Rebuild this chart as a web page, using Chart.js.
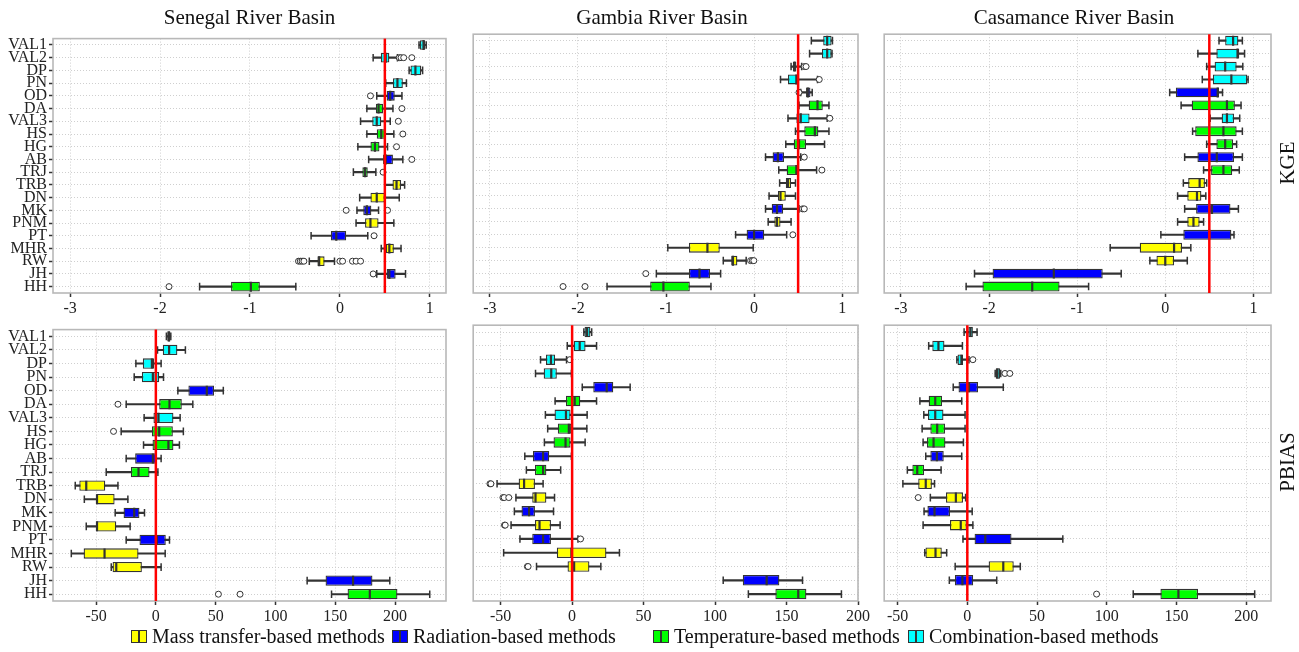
<!DOCTYPE html>
<html lang="en">
<head>
<meta charset="UTF-8">
<title>KGE and PBIAS by basin</title>
<script src="https://cdn.jsdelivr.net/npm/chart.js"></script>
<style>
  body { margin: 0; background: #fff; font-family: "Liberation Serif", serif; }
  #page { position: relative; width: 1299px; height: 652px; overflow: hidden; }
  .panel { position: absolute; }
  .title { position: absolute; top: 5px; width: 400px; text-align: center; font-size: 21px; color: #111; }
  .strip { position: absolute; width: 100px; height: 24px; line-height: 24px; text-align: center;
           font-size: 21px; color: #111; transform: rotate(-90deg); }
  .leg { position: absolute; top: 625px; display: flex; align-items: center; font-size: 20px; color: #111; white-space: nowrap; }
  .key { position: relative; display: inline-block; width: 14px; height: 11px; border: 1.3px solid #333; margin-right: 5px; }
  .key::after { content: ""; position: absolute; left: 6px; top: 0; width: 2px; height: 11px; background: #333; }
</style>
</head>
<body>
<div id="page"></div>
<script>
// categories, top to bottom
const methods = ['VAL1','VAL2','DP','PN','OD','DA','VAL3','HS','HG','AB','TRJ','TRB','DN','MK','PNM','PT','MHR','RW','JH','HH'];
// M = mass transfer, R = radiation, T = temperature, C = combination
const groups = ['C','C','C','C','R','T','C','T','T','R','T','M','M','R','M','R','M','M','R','T'];
const groupColors = { M: '#ffff00', R: '#0000ff', T: '#00ff00', C: '#00ffff' };
const legendLabels = ['Mass transfer-based methods', 'Radiation-based methods', 'Temperature-based methods', 'Combination-based methods'];
const legendGroups = ['M', 'R', 'T', 'C'];

const basins = ['Senegal River Basin', 'Gambia River Basin', 'Casamance River Basin'];
const kgeTicks = [-3, -2, -1, 0, 1];
const pbiasTicks = [-50, 0, 50, 100, 150, 200];

// each row: [lower whisker, q1, median, q3, upper whisker], in the order of methods
const kgeSenegal = [
  [0.88,0.89,0.93,0.95,0.96],[0.37,0.455,0.51,0.55,0.64],[0.77,0.785,0.84,0.905,0.92],[0.51,0.59,0.64,0.70,0.74],
  [0.41,0.52,0.56,0.61,0.69],[0.30,0.40,0.43,0.48,0.59],[0.23,0.36,0.41,0.46,0.56],[0.30,0.41,0.46,0.51,0.60],
  [0.20,0.34,0.39,0.44,0.53],[0.32,0.48,0.51,0.59,0.70],[0.15,0.25,0.28,0.31,0.40],[0.50,0.585,0.63,0.68,0.72],
  [0.22,0.34,0.41,0.50,0.66],[0.19,0.26,0.30,0.35,0.43],[0.18,0.28,0.34,0.43,0.60],[-0.32,-0.10,-0.04,0.07,0.31],
  [0.46,0.51,0.55,0.60,0.68],[-0.34,-0.25,-0.23,-0.17,-0.06],[0.41,0.52,0.55,0.62,0.73],[-1.56,-1.21,-0.99,-0.89,-0.49]
];
const kgeSenegalOut = [['VAL2',0.66],['VAL2',0.68],['VAL2',0.71],['VAL2',0.80],['OD',0.34],['DA',0.69],['VAL3',0.65],
  ['HS',0.70],['HG',0.63],['AB',0.80],['TRJ',0.48],['MK',0.07],['MK',0.53],['PT',0.38],
  ['RW',-0.46],['RW',-0.44],['RW',-0.42],['RW',-0.40],['RW',0.00],['RW',0.03],['RW',0.14],['RW',0.18],['RW',0.23],
  ['JH',0.37],['HH',-1.90]];

const kgeGambia = [
  [0.65,0.785,0.83,0.88,0.89],[0.63,0.77,0.83,0.88,0.885],[0.42,0.44,0.46,0.48,0.54],[0.30,0.385,0.48,0.51,0.72],
  [0.53,0.59,0.61,0.64,0.66],[0.51,0.62,0.72,0.78,0.85],[0.385,0.48,0.53,0.63,0.83],[0.47,0.57,0.69,0.73,0.85],
  [0.36,0.45,0.51,0.59,0.80],[0.13,0.21,0.27,0.34,0.53],[0.28,0.37,0.48,0.50,0.71],[0.29,0.36,0.385,0.42,0.47],
  [0.17,0.27,0.30,0.36,0.47],[0.13,0.20,0.26,0.33,0.51],[0.16,0.23,0.26,0.30,0.42],[-0.21,-0.085,0.00,0.115,0.37],
  [-0.98,-0.74,-0.53,-0.39,-0.01],[-0.35,-0.26,-0.24,-0.19,-0.09],[-1.11,-0.74,-0.62,-0.50,-0.38],[-1.67,-1.18,-1.03,-0.73,-0.49]
];
const kgeGambiaOut = [['DP',0.57],['DP',0.59],['PN',0.74],['OD',0.51],['VAL3',0.86],['AB',0.57],['TRJ',0.77],
  ['MK',0.55],['MK',0.57],['PT',0.44],['RW',-0.04],['RW',-0.02],['RW',-0.003],['JH',-1.23],['HH',-2.17],['HH',-1.92]];

const kgeCasamance = [
  [0.61,0.68,0.77,0.83,0.875],[0.37,0.58,0.82,0.84,0.90],[0.47,0.56,0.68,0.81,0.88],[0.42,0.54,0.75,0.93,0.94],
  [0.05,0.12,0.595,0.61,0.65],[0.18,0.30,0.70,0.79,0.86],[0.51,0.64,0.70,0.78,0.845],[0.31,0.34,0.66,0.81,0.875],
  [0.47,0.58,0.68,0.77,0.81],[0.22,0.365,0.585,0.78,0.875],[0.435,0.52,0.66,0.76,0.84],[0.205,0.26,0.39,0.45,0.47],
  [0.14,0.25,0.36,0.41,0.46],[0.22,0.35,0.53,0.74,0.83],[0.14,0.25,0.32,0.39,0.435],[-0.05,0.205,0.50,0.75,0.78],
  [-0.625,-0.29,0.10,0.19,0.29],[-0.175,-0.10,0.00,0.10,0.25],[-2.165,-1.96,-1.265,-0.71,-0.50],[-2.26,-2.075,-1.51,-1.20,-0.87]
];
const kgeCasamanceOut = [];

const pbiasSenegal = [
  [8.8,9.5,11,12,12.5],[1.4,5.8,11.1,18.0,24.7],[-16.7,-10.9,-3.3,-1.4,4.4],[-18.1,-11.7,-2.5,2.8,6.4],
  [18.4,27.2,42.6,48.7,56.4],[-24.8,2.8,11.4,21.7,30.9],[-9.8,-2.0,2.2,14.7,20.3],[-29.0,-3.3,2.8,14.2,23.0],
  [-10.3,-2.8,10.5,14.7,19.7],[-24.8,-17.3,-2.5,0.8,4.4],[-41.5,-20.9,-14.5,-5.3,1.7],[-67.4,-64.0,-58.2,-42.3,-31.7],
  [-59.8,-49.8,-49.2,-34.5,-23.4],[-34.0,-27.0,-18.1,-13.7,-9.5],[-58.2,-49.8,-49.2,-33.1,-21.5],[-24.8,-13.7,0.8,8.3,11.4],
  [-70.7,-60.4,-42.9,-14.5,7.8],[-37.3,-36.2,-33.1,-11.7,4.4],[126.5,141.9,164.9,181.1,195.6],[146.9,160.3,178.9,202.0,229.0]
];
const pbiasSenegalOut = [['DA',-31.7],['HS',-35.4],['HH',52.3],['HH',70.4]];

const pbiasGambia = [
  [8.2,8.7,10.5,12.8,13.7],[-3.4,1.1,5.3,9.4,17.1],[-22.1,-18.3,-14.8,-11.9,-3.9],[-25.6,-19.9,-14.6,-10.7,-0.5],
  [7.1,14.8,24.2,28.8,40.6],[-11.9,-4.3,1.8,5.7,17.1],[-18.7,-12.3,-4.3,-1.1,10.5],[-17.1,-10.0,-2.3,-0.5,10.3],
  [-19.4,-13.0,-4.6,-1.1,9.1],[-33.1,-27.4,-20.3,-16.0,-0.5],[-32.0,-26.0,-20.3,-18.0,-8.0],[-52.5,-37.4,-33.6,-26.0,-20.3],
  [-39.3,-27.9,-25.6,-18.0,-12.3],[-40.4,-35.4,-30.1,-26.0,-13.0],[-42.7,-26.0,-22.8,-14.8,-8.4],[-36.5,-27.9,-20.3,-14.8,4.1],
  [-47.9,-10.7,-0.5,24.0,33.1],[-24.9,-3.2,1.4,12.1,20.1],[105.7,119.4,136.1,145.0,161.2],[123.3,142.2,158.2,163.9,188.4]
];
const pbiasGambiaOut = [['DP',-1.6],['TRB',-57.5],['TRB',-56.8],['DN',-48.4],['DN',-47.5],['DN',-44.3],
  ['PNM',-47.3],['PNM',-46.8],['PT',5.9],['RW',-31.3],['RW',-30.8]];

const pbiasCasamance = [
  [-2.3,0.7,2.3,4.0,7.0],[-27.7,-25.1,-20.7,-16.4,-3.5],[-7.5,-7.0,-4.2,-3.1,1.2],[20.0,20.4,21.6,23.5,24.0],
  [-10.1,-6.3,1.2,7.7,25.8],[-34.0,-27.7,-23.0,-18.1,-4.0],[-31.2,-28.2,-23.0,-17.1,-1.6],[-32.4,-26.5,-21.6,-16.0,-1.6],
  [-31.7,-28.9,-24.2,-15.7,-2.8],[-29.8,-26.5,-21.8,-16.9,-4.0],[-43.0,-39.4,-35.9,-31.0,-18.8],[-46.2,-35.2,-29.8,-25.4,-23.5],
  [-26.5,-15.3,-8.2,-3.1,-1.2],[-31.0,-28.6,-23.5,-12.4,3.5],[-31.7,-12.4,-4.7,0.0,4.0],[-3.1,5.2,12.9,31.7,68.5],
  [-30.5,-30.0,-22.8,-18.3,-14.8],[-8.7,15.3,25.8,33.3,38.0],[-12.9,-8.9,-3.5,4.2,21.1],[119.0,138.5,151.4,165.5,206.1]
];
const pbiasCasamanceOut = [['DP',4.0],['PN',27.0],['PN',30.5],['DN',-35.2],['HH',92.7]];

const page = document.getElementById('page');
const ink = '#333333';

// frame around the plot area + red reference line on top of the boxes
const framePlugin = {
  id: 'frame',
  beforeDatasetsDraw(chart) {
    const { ctx, chartArea: a } = chart;
    ctx.save();
    ctx.strokeStyle = '#b8b8b8';
    ctx.lineWidth = 1.6;
    ctx.strokeRect(a.left, a.top, a.right - a.left, a.bottom - a.top);
    ctx.restore();
  },
  afterDatasetsDraw(chart, args, opts) {
    const { ctx, chartArea: a } = chart;
    const x = chart.scales.x.getPixelForValue(opts.value);
    ctx.save();
    ctx.strokeStyle = '#ff0000';
    ctx.lineWidth = 2.5;
    ctx.beginPath();
    ctx.moveTo(x, a.top);
    ctx.lineTo(x, a.bottom);
    ctx.stroke();
    ctx.restore();
  }
};

function makePanel(rect, rows, outs, xMin, xMax, xTicks, refValue, showY) {
  const yW = showY ? 53 : 0, padT = 6, padR = 18, xH = 30;
  const w = rect.R - rect.L + yW + padR, h = rect.B - rect.T + padT + xH;
  const div = document.createElement('div');
  div.className = 'panel';
  div.style.left = (rect.L - yW) + 'px';
  div.style.top = (rect.T - padT) + 'px';
  div.style.width = w + 'px';
  div.style.height = h + 'px';
  const cv = document.createElement('canvas');
  cv.width = w; cv.height = h;
  div.appendChild(cv);
  page.appendChild(div);

  const boxColors = groups.map(g => groupColors[g]);
  const caps = [];
  rows.forEach((r, i) => { caps.push({ x: r[0], y: methods[i] }, { x: r[4], y: methods[i] }); });

  new Chart(cv, {
    type: 'bar',
    data: {
      labels: methods,
      datasets: [
        { // whiskers
          data: rows.map(r => [r[0], r[4]]),
          backgroundColor: ink, borderWidth: 0, barThickness: 1.5, grouped: false, order: 5
        },
        { // boxes
          data: rows.map(r => [r[1], r[3]]),
          backgroundColor: boxColors, borderColor: ink, borderWidth: 1.3, borderSkipped: false,
          barPercentage: 0.76, categoryPercentage: 1, grouped: false, order: 4
        },
        { // whisker caps
          type: 'scatter', data: caps, pointStyle: 'line', rotation: 90, pointRadius: 3.8,
          borderColor: ink, borderWidth: 1.5, order: 3
        },
        { // medians
          type: 'scatter', data: rows.map((r, i) => ({ x: r[2], y: methods[i] })), pointStyle: 'line', rotation: 90,
          pointRadius: 5, borderColor: ink, borderWidth: 2.2, order: 2
        },
        { // outliers
          type: 'scatter', data: outs.map(o => ({ x: o[1], y: o[0] })), pointStyle: 'circle', pointRadius: 3,
          backgroundColor: '#ffffff', borderColor: ink, borderWidth: 1, order: 1
        }
      ]
    },
    options: {
      responsive: false,
      animation: false,
      events: [],
      indexAxis: 'y',
      layout: { padding: { top: padT, right: padR, left: 0, bottom: 0 } },
      plugins: { legend: { display: false }, tooltip: { enabled: false }, frame: { value: refValue } },
      scales: {
        x: {
          type: 'linear', min: xMin, max: xMax,
          afterBuildTicks: s => { s.ticks = xTicks.map(v => ({ value: v })); },
          afterFit: s => { s.height = xH; },
          ticks: { autoSkip: false, maxRotation: 0, padding: 2, color: '#222', font: { family: 'Liberation Serif', size: 16 } },
          grid: { color: '#cfcfcf', lineWidth: 1, tickLength: 4, tickColor: ink, tickWidth: 1.5 },
          border: { display: false, dash: [1, 2] }
        },
        y: {
          type: 'category', labels: methods, offset: true,
          afterFit: s => { s.width = yW; },
          ticks: { display: showY, autoSkip: false, padding: 2, color: '#222', font: { family: 'Liberation Serif', size: 16 } },
          grid: { offset: false, color: '#cfcfcf', lineWidth: 1, drawTicks: showY, tickLength: 4, tickColor: ink, tickWidth: 1.5 },
          border: { display: false, dash: [1, 2] }
        }
      }
    },
    plugins: [framePlugin]
  });
}

const cols = [{ L: 53, R: 446 }, { L: 466, R: 858 }, { L: 877, R: 1271 }];
const topRow = { T: 33, B: 293 }, botRow = { T: 324, B: 601 };

makePanel({ ...cols[0], ...topRow }, kgeSenegal, kgeSenegalOut, -3.19, 1.18, kgeTicks, 0.5, true);
makePanel({ ...cols[1], ...topRow }, kgeGambia, kgeGambiaOut, -3.19, 1.18, kgeTicks, 0.5, false);
makePanel({ ...cols[2], ...topRow }, kgeCasamance, kgeCasamanceOut, -3.19, 1.20, kgeTicks, 0.5, false);
makePanel({ ...cols[0], ...botRow }, pbiasSenegal, pbiasSenegalOut, -86, 242.6, pbiasTicks, 0, true);
makePanel({ ...cols[1], ...botRow }, pbiasGambia, pbiasGambiaOut, -69.2, 200, pbiasTicks, 0, false);
makePanel({ ...cols[2], ...botRow }, pbiasCasamance, pbiasCasamanceOut, -59.6, 217.8, pbiasTicks, 0, false);

// basin titles
basins.forEach((b, i) => {
  const t = document.createElement('div');
  t.className = 'title';
  t.textContent = b;
  t.style.left = ((cols[i].L + cols[i].R) / 2 - 200) + 'px';
  page.appendChild(t);
});

// row strips
[['KGE', 163], ['PBIAS', 462]].forEach(([txt, cy]) => {
  const s = document.createElement('div');
  s.className = 'strip';
  s.textContent = txt;
  s.style.left = (1287 - 50) + 'px';
  s.style.top = (cy - 12) + 'px';
  page.appendChild(s);
});

// legend
const legendX = [131, 392, 653, 908];
legendLabels.forEach((lab, i) => {
  const item = document.createElement('div');
  item.className = 'leg';
  item.style.left = legendX[i] + 'px';
  const key = document.createElement('span');
  key.className = 'key';
  key.style.background = groupColors[legendGroups[i]];
  item.appendChild(key);
  item.appendChild(document.createTextNode(lab));
  page.appendChild(item);
});
</script>
</body>
</html>
